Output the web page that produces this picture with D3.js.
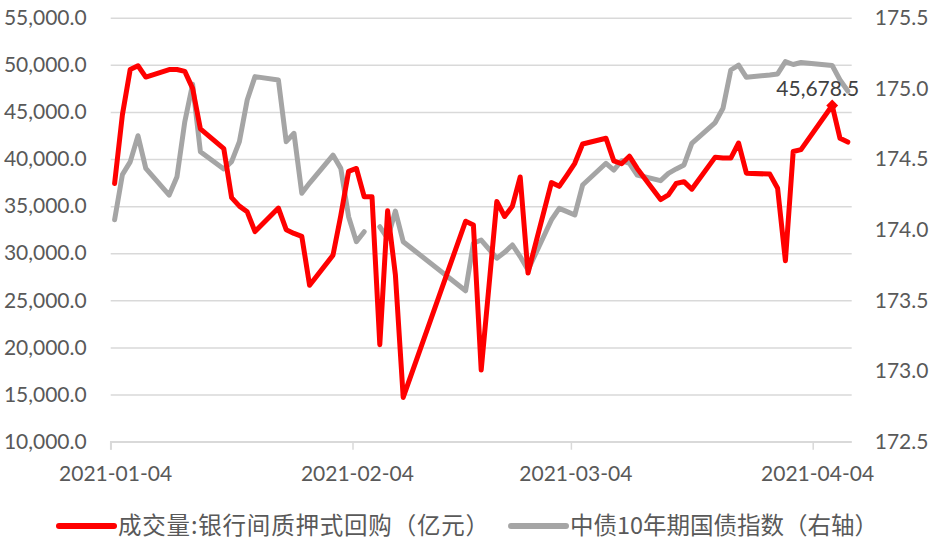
<!DOCTYPE html>
<html><head><meta charset="utf-8">
<script src="https://cdn.jsdelivr.net/npm/d3@7"></script>
<style>
html,body{margin:0;padding:0;background:#fff;}
svg{display:block;}
</style></head>
<body>
<svg id="chart" width="943" height="545"></svg>
<script>
// ---- data ----
const dates = ["2021-01-04","2021-01-05","2021-01-06","2021-01-07","2021-01-08",
"2021-01-11","2021-01-12","2021-01-13","2021-01-14","2021-01-15",
"2021-01-18","2021-01-19","2021-01-20","2021-01-21","2021-01-22",
"2021-01-25","2021-01-26","2021-01-27","2021-01-28","2021-01-29",
"2021-02-01","2021-02-02","2021-02-03","2021-02-04","2021-02-05","2021-02-06",
"2021-02-07","2021-02-08","2021-02-09","2021-02-10",
"2021-02-18","2021-02-19","2021-02-20",
"2021-02-22","2021-02-23","2021-02-24","2021-02-25","2021-02-26",
"2021-03-01","2021-03-02","2021-03-03","2021-03-04","2021-03-05",
"2021-03-08","2021-03-09","2021-03-10","2021-03-11","2021-03-12",
"2021-03-15","2021-03-16","2021-03-17","2021-03-18","2021-03-19",
"2021-03-22","2021-03-23","2021-03-24","2021-03-25","2021-03-26",
"2021-03-29","2021-03-30","2021-03-31","2021-04-01","2021-04-02",
"2021-04-06","2021-04-07","2021-04-08"];

const repoVolume = [37400,44700,49500,49900,48700,
49500,49500,49300,47500,43200,
41100,35900,35000,34400,32300,
34800,32500,32100,31800,26600,
29800,34000,38700,39000,36000,36000,
20300,34500,27700,14700,
33400,33000,17600,
35500,33900,35000,38100,27900,
37500,37100,38300,39550,41600,
42200,39800,39500,40300,39000,
35700,36200,37400,37600,36800,
40200,40100,40100,41700,38500,
38400,36900,29200,40800,41000,
45678.5,42200,41800];

const bondIndex = [174.07,174.39,174.48,174.665,174.434,
174.245,174.375,174.764,175.029,174.552,
174.43,174.481,174.623,174.918,175.083,
175.059,174.623,174.682,174.258,174.33,
174.528,174.434,174.092,173.915,173.986,null,
174.021,173.939,174.132,173.915,
173.568,173.904,173.927,
173.798,173.84,173.892,173.81,173.715,
174.069,174.151,174.128,174.104,174.316,
174.47,174.422,174.488,174.47,174.387,
174.347,174.399,174.43,174.458,174.611,
174.758,174.859,175.13,175.165,175.078,
175.095,175.102,175.189,175.169,175.183,
175.162,175.059,174.981];

const xTickLabels = ["2021-01-04","2021-02-04","2021-03-04","2021-04-04"];
const leftTicks = [10000,15000,20000,25000,30000,35000,40000,45000,50000,55000];
const rightTicks = [172.5,173.0,173.5,174.0,174.5,175.0,175.5];
const seriesNames = ["成交量:银行间质押式回购（亿元）","中债10年期国债指数（右轴）"];
const labelIndex = 63; // data label on 2021-04-06

// ---- layout ----
const svg = d3.select("#chart");
const plot = {left:110.7, right:851.7, top:17.7, bottom:441.7};
const parse = d3.utcParse("%Y-%m-%d");
const half = 12*3600*1000;
const x = d3.scaleUtc().domain([parse("2021-01-04"), parse("2021-04-09")]).range([plot.left, plot.right]);
const yL = d3.scaleLinear().domain([10000,55000]).range([plot.bottom, plot.top]);
const yR = d3.scaleLinear().domain([172.5,175.5]).range([plot.bottom, plot.top]);
const px = d => x(new Date(parse(d).getTime()+half));

const axisFont = "Lato, 'Noto Sans', sans-serif";
const txtColor = "#595959";

// gridlines
const grid = d3.axisLeft(yL).tickValues(leftTicks).tickSize(-(plot.right-plot.left)).tickFormat("");
svg.append("g").attr("transform",`translate(${plot.left},0)`).call(grid)
  .call(g=>g.select(".domain").remove())
  .call(g=>g.selectAll("line").attr("stroke","#d9d9d9").attr("stroke-width",1.5));

// left axis labels
const leftAxis = d3.axisLeft(yL).tickValues(leftTicks).tickSize(0).tickPadding(24)
  .tickFormat(d3.format(",.1f"));
svg.append("g").attr("transform",`translate(${plot.left},0)`).call(leftAxis)
  .call(g=>g.select(".domain").remove())
  .call(g=>g.selectAll("text").attr("fill",txtColor).attr("font-family",axisFont).attr("font-size",21));

// right axis labels
const rightAxis = d3.axisRight(yR).tickValues(rightTicks).tickSize(0).tickPadding(23)
  .tickFormat(d3.format(".1f"));
svg.append("g").attr("transform",`translate(${plot.right},0)`).call(rightAxis)
  .call(g=>g.select(".domain").remove())
  .call(g=>g.selectAll("text").attr("fill",txtColor).attr("font-family",axisFont).attr("font-size",21));

// bottom axis
const xAxis = d3.axisBottom(x).tickValues(xTickLabels.map(parse)).tickSize(8).tickFormat("");
const gx = svg.append("g").attr("transform",`translate(0,${plot.bottom})`).call(xAxis);
gx.select(".domain").attr("stroke","#d9d9d9").attr("stroke-width",1.5).attr("d",`M${plot.left},8V0H${plot.right}`);
gx.selectAll("line").attr("stroke","#d9d9d9").attr("stroke-width",1.5);
svg.append("g").selectAll("text").data(xTickLabels).join("text")
  .attr("x",d=>px(d)+1).attr("y",plot.bottom+39)
  .attr("text-anchor","middle").attr("fill",txtColor)
  .attr("font-family",axisFont).attr("font-size",21).text(d=>d);

// lines
const grayLine = d3.line().defined(d=>d.v!==null).x(d=>px(d.d)).y(d=>yR(d.v));
svg.append("path").datum(dates.map((d,i)=>({d,v:bondIndex[i]})))
  .attr("d",grayLine).attr("fill","none").attr("stroke","#a5a5a5")
  .attr("stroke-width",5).attr("stroke-linejoin","round").attr("stroke-linecap","round");

const redLine = d3.line().x(d=>px(d.d)).y(d=>yL(d.v));
svg.append("path").datum(dates.map((d,i)=>({d,v:repoVolume[i]})))
  .attr("d",redLine).attr("fill","none").attr("stroke","#ff0000")
  .attr("stroke-width",5).attr("stroke-linejoin","round").attr("stroke-linecap","round");

// marker + data label
const lx = px(dates[labelIndex]), ly = yL(repoVolume[labelIndex]);
svg.append("path").attr("d",d3.symbol(d3.symbolDiamond2,90)())
  .attr("transform",`translate(${lx},${ly})`).attr("fill","#ff0000");
svg.append("text").attr("x",lx-14.5).attr("y",ly-10)
  .attr("text-anchor","middle").attr("fill","#404040")
  .attr("font-family",axisFont).attr("font-size",21)
  .text(d3.format(",.1f")(repoVolume[labelIndex]));

// legend
const legend = svg.append("g");
const legItems = [{name:seriesNames[0],color:"#ff0000",x:59,ls:0.8},{name:seriesNames[1],color:"#a5a5a5",x:511,ls:0}];
legItems.forEach(it=>{
  legend.append("line").attr("x1",it.x).attr("x2",it.x+55).attr("y1",526).attr("y2",526)
    .attr("stroke",it.color).attr("stroke-width",6).attr("stroke-linecap","round");
  legend.append("text").attr("x",it.x+59).attr("y",526).attr("dy","0.35em")
    .attr("fill",txtColor).attr("font-family","'Noto Sans CJK SC', sans-serif")
    .attr("font-size",23.5).attr("letter-spacing",it.ls).text(it.name);
});
</script>
</body></html>
